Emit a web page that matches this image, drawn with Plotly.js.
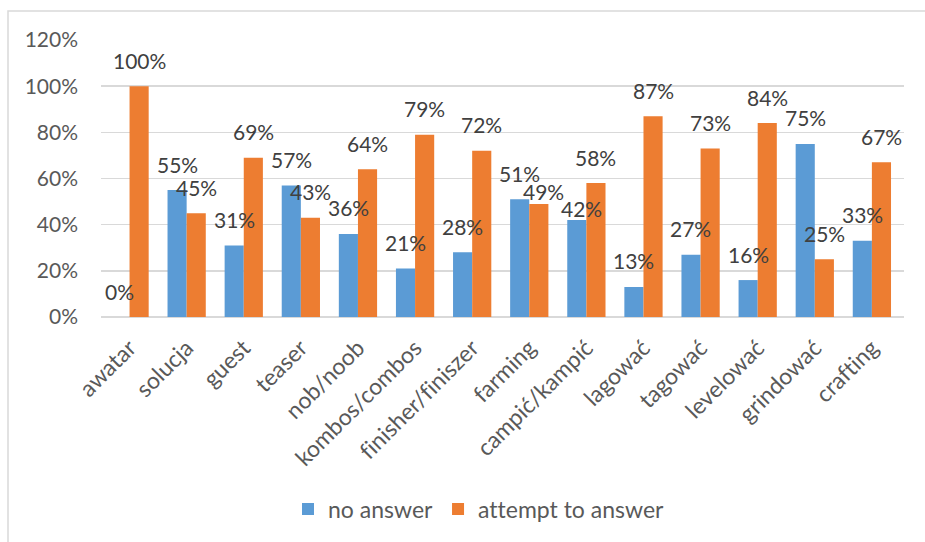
<!DOCTYPE html>
<html>
<head>
<meta charset="utf-8">
<script src="https://cdn.plot.ly/plotly-3.0.1.min.js"></script>
<style>
  html, body { margin: 0; padding: 0; background: #ffffff; }
  #chart { width: 925px; height: 542px; }
  svg text { font-variant-ligatures: none !important; font-feature-settings: "liga" 0, "clig" 0 !important; }
</style>
</head>
<body>
<div id="chart"></div>
<script>
// ---- data ----
const categories = ["awatar", "solucja", "guest", "teaser", "nob/noob", "kombos/combos",
  "finisher/finiszer", "farming", "campić/kampić", "lagować", "tagować", "levelować",
  "grindować", "crafting"];
const noAnswer = [0, 0.55, 0.31, 0.57, 0.36, 0.21, 0.28, 0.51, 0.42, 0.13, 0.27, 0.16, 0.75, 0.33];
const attemptToAnswer = [1.00, 0.45, 0.69, 0.43, 0.64, 0.79, 0.72, 0.49, 0.58, 0.87, 0.73, 0.84, 0.25, 0.67];
const seriesNames = ["no answer", "attempt to answer"];
const yTickVals = [0, 0.2, 0.4, 0.6, 0.8, 1.0, 1.2];
const yTickText = ["0%", "20%", "40%", "60%", "80%", "100%", "120%"];

// ---- style ----
const FONT = "Lato, 'Open Sans', sans-serif";
const BLUE = "#5B9BD5";
const ORANGE = "#ED7D31";
const GRID = "#D9D9D9";
const TICK_COLOR = "#595959";
const LABEL_COLOR = "#404040";
const FS_NUM = 21;
const FS_TXT = 23;

const margin = {l: 101, r: 21, t: 40, b: 225};
const W = 925, H = 542;
const plotW = W - margin.l - margin.r;
const plotH = H - margin.t - margin.b;
const bargap = 0.33;
const catW = plotW / categories.length;
const barW = catW * (1 - bargap) / 2;
const pxPerUnit = plotH / 1.2;

const traces = [
  {type: "bar", name: seriesNames[0], x: categories, y: noAnswer,
   marker: {color: BLUE}, hoverinfo: "skip"},
  {type: "bar", name: seriesNames[1], x: categories, y: attemptToAnswer,
   marker: {color: ORANGE}, hoverinfo: "skip"}
];

// ---- value labels: placed above each bar; a label that would collide with
// an already placed one is lowered onto its bar and nudged right ----
const GAP_STD = 18, GAP_LOW = 4, NUDGE_X = 5, BASE_OFF = 6.5;
const series = [noAnswer, attemptToAnswer];
const placed = [];
const annotations = [];
categories.forEach((cat, i) => {
  series.forEach((vals, si) => {
    const v = vals[i];
    const txt = Math.round(v * 100) + "%";
    const halfW = ((txt.length - 1) * 11.6 + 17) / 2;
    const cx = i * catW + catW / 2 + (si === 0 ? -1 : 1) * barW / 2;
    const top = (1.2 - v) * pxPerUnit;
    const boxAt = (gap, dx) => ({x0: cx + dx - halfW, x1: cx + dx + halfW,
                                 y0: top - gap - 15, y1: top - gap + 1});
    const hits = b => placed.some(p => b.x0 < p.x1 && b.x1 > p.x0 && b.y0 < p.y1 && b.y1 > p.y0);
    let gap = GAP_STD, dx = 0, box = boxAt(gap, dx);
    if (hits(box)) { gap = GAP_LOW; dx = NUDGE_X; box = boxAt(gap, dx); }
    placed.push(box);
    annotations.push({
      x: cat, y: v, xref: "x", yref: "y",
      text: txt,
      showarrow: false, xanchor: "center", yanchor: "bottom",
      xshift: (si === 0 ? -1 : 1) * barW / 2 + dx,
      yshift: gap - BASE_OFF,
      font: {family: FONT, size: FS_NUM, color: LABEL_COLOR}
    });
  });
});

const px2x = px => (px - margin.l) / plotW;
const py2y = py => (H - margin.b - py) / plotH;

const layout = {
  width: W, height: H,
  margin: margin,
  paper_bgcolor: "#ffffff",
  plot_bgcolor: "#ffffff",
  font: {family: FONT, size: FS_NUM, color: TICK_COLOR},
  barmode: "group",
  bargap: bargap,
  bargroupgap: 0,
  showlegend: true,
  legend: {
    orientation: "h",
    x: px2x(288), xanchor: "left",
    y: py2y(509), yanchor: "middle",
    font: {family: FONT, size: FS_TXT, color: TICK_COLOR},
    bgcolor: "rgba(0,0,0,0)"
  },
  xaxis: {
    type: "category",
    tickangle: -45,
    showgrid: false,
    showline: false,
    zeroline: false,
    ticks: "",
    ticklabelstandoff: 12,
    tickfont: {family: FONT, size: FS_TXT, color: TICK_COLOR}
  },
  yaxis: {
    range: [0, 1.2],
    tickvals: yTickVals,
    ticktext: yTickText,
    showgrid: true,
    gridcolor: GRID,
    gridwidth: 1.5,
    zeroline: true,
    zerolinecolor: GRID,
    zerolinewidth: 1.5,
    showline: false,
    ticks: "",
    ticklabelstandoff: 22,
    tickfont: {family: FONT, size: FS_NUM, color: TICK_COLOR}
  },
  annotations: annotations,
  shapes: [{
    type: "rect", xref: "paper", yref: "paper",
    x0: px2x(8), x1: px2x(935), y0: py2y(555), y1: py2y(11),
    line: {color: GRID, width: 1.5}, fillcolor: "rgba(0,0,0,0)", layer: "below"
  }]
};

Plotly.newPlot("chart", traces, layout, {staticPlot: true, displayModeBar: false});
</script>
</body>
</html>
